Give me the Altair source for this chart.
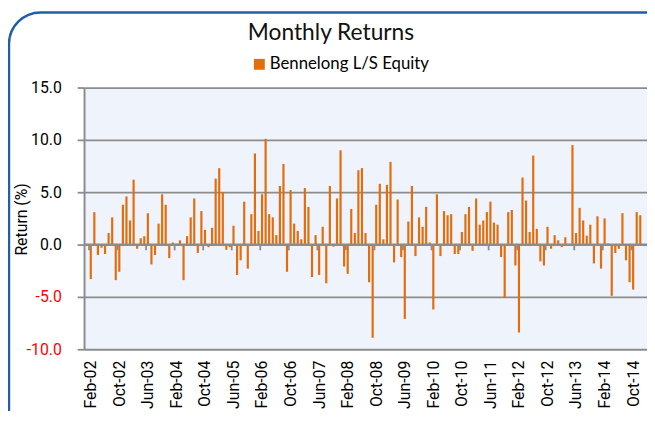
import altair as alt
import pandas as pd

# Monthly returns (%), Feb-02 .. Dec-14
returns = [
    -3.3, 3.1, -1.0, -0.3, -0.9, 1.1, 2.6, -3.4, -2.6, 3.8,
    4.6, 2.3, 6.2, -0.4, 0.6, 0.8, 3.0, -1.9, -1.0, 2.0,
    4.8, 3.8, -1.3, 0.2, 0.1, 0.4, -3.4, 0.8, 2.6, 4.4,
    -0.8, 3.2, 1.4, -0.25, 1.6, 6.3, 7.3, 5.0, -0.5, -0.25,
    1.8, -2.9, -1.5, 4.1, -2.3, 2.9, 8.7, 1.3, 4.8, 10.1,
    2.9, 2.6, 0.9, 5.6, 7.7, -2.6, 5.2, 2.0, 1.3, 0.5,
    5.4, 3.6, -3.1, 0.9, -2.9, 1.7, -3.7, 5.6, -0.2, 4.4,
    9.0, -2.1, -2.8, 3.4, 1.1, 7.1, 7.3, 1.1, -3.6, -8.9,
    3.8, 5.8, 0.5, 5.7, 7.9, -1.7, 4.3, -1.2, -7.1, 2.2,
    5.6, -1.1, 2.6, 1.7, 3.6, 0.2, -6.2, 4.8, -1.1, 3.2,
    2.8, 2.9, -0.9, -0.9, 1.2, 2.9, 3.6, -0.6, 4.4, 1.9,
    2.3, 3.1, 4.1, 2.1, 1.9, -1.2, -5.1, 3.1, 3.3, -2.0,
    -8.4, 6.4, 4.2, 1.2, 8.5, 1.5, -1.6, -2.0, 1.7, -0.4,
    0.9, 0.4, -0.25, 0.7, 0.05, 9.5, 1.1, 3.5, 2.3, 0.85,
    1.9, -1.8, 2.7, -2.3, 2.5, 0.1, -4.9, -0.8, -0.4, 3.0,
    -1.5, -3.6, -4.3, 3.1, 2.8,
]
tick_labels = [
    "Feb-02", "Oct-02", "Jun-03", "Feb-04", "Oct-04", "Jun-05", "Feb-06",
    "Oct-06", "Jun-07", "Feb-08", "Oct-08", "Jun-09", "Feb-10", "Oct-10",
    "Jun-11", "Feb-12", "Oct-12", "Jun-13", "Feb-14", "Oct-14",
]
label_every = 8
y_ticks = [-10, -5, 0, 5, 10, 15]
series_name = "Bennelong L/S Equity"
chart_title = "Monthly Returns"
y_title = "Return (%)"

df = pd.DataFrame({
    "month": list(range(len(returns))),
    "ret": returns,
    "series": series_name,
})
label_pos = [i * label_every for i in range(len(tick_labels))]
ticks_df = pd.DataFrame({
    "month": [p - 0.5 for p in label_pos],
    "ret": 0.0,
    "ret2": -0.55,
})
zero_df = pd.DataFrame({"ret": [0.0]})
title_df = pd.DataFrame({"t": [chart_title]})

label_expr = "[" + ",".join(f"'{t}'" for t in tick_labels) + f"][round(datum.value / {label_every})]"

x_scale = alt.Scale(domain=[-0.5, len(returns) - 0.5], nice=False, zero=False)
y_scale = alt.Scale(domain=[y_ticks[0], y_ticks[-1]], nice=False, zero=False)

GRAY = "#8C8C8C"
ORANGE = "#E46C0A"

x_axis = alt.Axis(
    values=label_pos, labelExpr=label_expr, labelAngle=270,
    labelAlign="right", labelBaseline="middle", labelPadding=11,
    labelFlush=False, labelOverlap=False, labelBound=False,
    domain=False, ticks=False, grid=False, title=None,
    labelFont="Roboto", labelFontSize=16, labelColor="#000000",
)
y_axis = alt.Axis(
    values=y_ticks,
    labelExpr="(datum.value < 0 ? '-' : '') + format(abs(datum.value), '.1f')",
    labelColor={"condition": {"test": "datum.value < 0", "value": "#FF0000"},
                "value": "#000000"},
    labelFont="Roboto", labelFontSize=16, labelPadding=16,
    labelBaseline="middle", labelOverlap=False,
    domainColor=GRAY, domainWidth=2,
    tickColor=GRAY, tickWidth=1.8, tickSize=7,
    gridColor=GRAY, gridWidth=1.8,
    title=y_title, titleFont="Roboto", titleFontSize=16,
    titleFontWeight="normal", titleColor="#000000",
    titleAngle=270, titleAlign="center", titleBaseline="middle",
    titleX=-63, titleY=133,
)

frame = alt.Chart(pd.DataFrame({"k": [0]})).mark_rect(
    filled=False, stroke="#1F5EA8", strokeWidth=2.5, cornerRadius=32, clip=False
).encode(
    x=alt.value(-76), x2=alt.value(800), y=alt.value(-76), y2=alt.value(600)
)

title = alt.Chart(title_df).mark_text(
    font="Lato", fontSize=23, color="#111111", align="center", baseline="alphabetic"
).encode(
    text="t:N", x=alt.value(250), y=alt.value(-48)
)

bars = alt.Chart(df).mark_bar(orient="vertical", width=2.2).encode(
    x=alt.X("month:Q", scale=x_scale, axis=x_axis),
    y=alt.Y("ret:Q", scale=y_scale, stack=None, axis=y_axis),
    color=alt.Color(
        "series:N", scale=alt.Scale(range=[ORANGE]),
        legend=alt.Legend(
            orient="none", legendX=169, legendY=-32, title=None,
            symbolType="square", symbolSize=121, symbolStrokeWidth=0,
            symbolOpacity=1, labelFont="Lato", labelFontSize=17,
            labelColor="#000000", labelOffset=2, padding=0, labelLimit=400,
        ),
    ),
)

zero = alt.Chart(zero_df).mark_rule(color=GRAY, strokeWidth=2).encode(
    y=alt.Y("ret:Q", scale=y_scale, axis=y_axis)
)

ticks = alt.Chart(ticks_df).mark_rule(color=GRAY, strokeWidth=1.8).encode(
    x=alt.X("month:Q", scale=x_scale, axis=x_axis),
    y=alt.Y("ret:Q", scale=y_scale, axis=y_axis),
    y2="ret2:Q",
)

chart = alt.layer(frame, title, bars, zero, ticks).properties(
    width=570,
    height=265,
    padding={"left": 77, "top": 78, "right": 0, "bottom": 60},
    autosize=alt.AutoSizeParams(type="none"),
    background="white",
).configure_view(
    fill="#EFF3FB", stroke="transparent"
).configure_axis(
    labelOverlap=False
)

chart.save("out.html", embed_options={"renderer": "svg", "actions": False})
